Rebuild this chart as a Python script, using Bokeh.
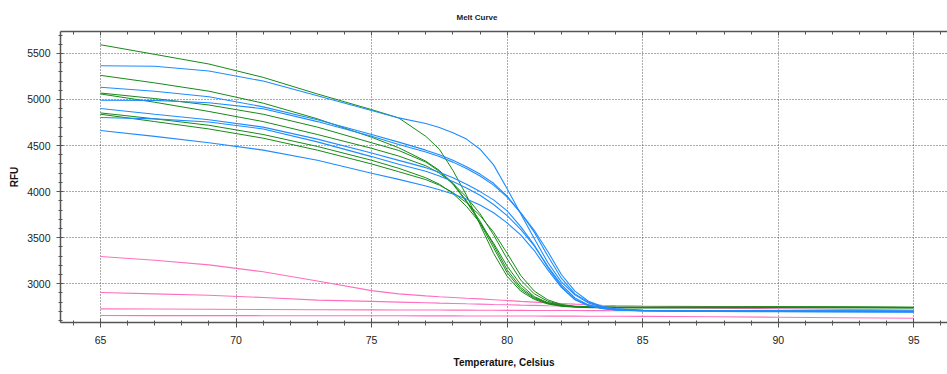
from bokeh.plotting import figure
from bokeh.models import LinearAxis, Range1d, FixedTicker
from bokeh.embed import file_html
from bokeh.resources import INLINE

# Temperatures (Celsius) at which the curves were read
temps = [65, 67, 69, 71, 73, 75, 76, 77, 77.5, 78, 78.5, 79, 79.5, 80, 80.5,
         81, 81.5, 82, 82.5, 83, 83.5, 84, 85, 87.5, 90, 92.5, 95]

# Green wells (RFU)
green_1 = [5594, 5490, 5385, 5240, 5060, 4890, 4800, 4600, 4460, 4230, 3960, 3640, 3330, 3080, 2920,
           2830, 2780, 2755, 2745, 2740, 2738, 2737, 2736, 2738, 2740, 2738, 2735]
green_2 = [5262, 5180, 5090, 4960, 4790, 4590, 4476, 4330, 4230, 4090, 3900, 3680, 3420, 3150, 2960,
           2850, 2790, 2762, 2750, 2746, 2744, 2743, 2743, 2745, 2746, 2745, 2743]
green_3 = [5070, 5010, 4940, 4840, 4700, 4530, 4447, 4320, 4220, 4080, 3890, 3660, 3390, 3120, 2940,
           2840, 2785, 2760, 2750, 2746, 2744, 2743, 2743, 2744, 2745, 2744, 2742]
green_4 = [5060, 4970, 4870, 4760, 4620, 4470, 4386, 4280, 4200, 4090, 3940, 3760, 3530, 3270, 3040,
           2890, 2810, 2770, 2752, 2746, 2744, 2743, 2743, 2745, 2746, 2745, 2743]
green_5 = [4854, 4790, 4720, 4620, 4490, 4340, 4253, 4150, 4080, 3980, 3840, 3660, 3440, 3190, 2990,
           2860, 2795, 2765, 2752, 2747, 2745, 2744, 2744, 2745, 2746, 2745, 2743]
green_6 = [4840, 4760, 4680, 4580, 4450, 4300, 4216, 4130, 4070, 3990, 3880, 3740, 3560, 3330, 3090,
           2920, 2825, 2775, 2755, 2748, 2745, 2744, 2744, 2745, 2746, 2745, 2743]

# Blue wells (RFU)
blue_1 = [5367, 5360, 5310, 5200, 5040, 4880, 4800, 4740, 4695, 4640, 4570, 4460, 4290, 4030, 3760,
          3490, 3230, 3020, 2880, 2790, 2745, 2725, 2712, 2708, 2706, 2705, 2704]
blue_2 = [5132, 5090, 5030, 4920, 4780, 4620, 4537, 4450, 4400, 4340, 4270, 4190, 4090, 3950, 3770,
          3560, 3300, 3060, 2890, 2800, 2750, 2725, 2710, 2705, 2703, 2702, 2700]
blue_3 = [4991, 4990, 4965, 4900, 4760, 4600, 4512, 4430, 4380, 4320, 4250, 4170, 4070, 3940, 3770,
          3580, 3350, 3100, 2920, 2810, 2755, 2728, 2712, 2707, 2705, 2704, 2703]
blue_4 = [4902, 4840, 4780, 4700, 4570, 4420, 4339, 4260, 4210, 4150, 4080, 4000, 3910, 3790, 3620,
          3420, 3180, 2970, 2830, 2765, 2732, 2716, 2706, 2700, 2698, 2697, 2695]
blue_5 = [4804, 4790, 4755, 4680, 4540, 4380, 4296, 4220, 4170, 4110, 4040, 3960, 3860, 3740, 3590,
          3410, 3190, 2990, 2845, 2770, 2735, 2718, 2706, 2701, 2699, 2698, 2696]
blue_6 = [4664, 4600, 4530, 4450, 4340, 4200, 4133, 4060, 4020, 3975, 3920, 3855, 3770, 3660, 3530,
          3360, 3150, 2960, 2825, 2762, 2731, 2714, 2704, 2698, 2695, 2694, 2692]

# Pink wells (RFU)
pink_1 = [3296, 3255, 3205, 3130, 3030, 2925, 2890, 2868, 2858, 2850, 2842, 2835, 2826, 2817, 2808,
          2800, 2792, 2785, 2778, 2772, 2767, 2763, 2758, 2752, 2748, 2744, 2740]
pink_2 = [2905, 2890, 2875, 2850, 2822, 2808, 2800, 2793, 2789, 2786, 2782, 2779, 2775, 2772, 2768,
          2765, 2761, 2758, 2755, 2752, 2749, 2746, 2742, 2735, 2728, 2721, 2715]
pink_3 = [2727, 2725, 2723, 2720, 2718, 2716, 2715, 2714, 2714, 2713, 2713, 2712, 2712, 2711, 2711,
          2710, 2710, 2709, 2709, 2708, 2708, 2707, 2706, 2704, 2702, 2700, 2698]
pink_4 = [2655, 2654, 2654, 2653, 2653, 2652, 2652, 2651, 2651, 2651, 2650, 2650, 2650, 2649, 2649,
          2649, 2648, 2648, 2648, 2647, 2647, 2647, 2646, 2641, 2636, 2630, 2625]

x_major = [65, 70, 75, 80, 85, 90, 95]
x_minor = list(range(63, 97))
y_major = [3000, 3500, 4000, 4500, 5000, 5500]
y_minor = list(range(2600, 5800, 100))

GREEN = "#168a16"
BLUE = "#1e8cff"
PINK = "#ff6fbf"
AXIS = "#555555"
FONT = "Liberation Sans"

p = figure(width=947, height=374, output_backend="svg", toolbar_location=None,
           x_range=Range1d(63.525, 96.243), y_range=Range1d(2579, 5738),
           min_border_left=60, min_border_right=0, min_border_top=30, min_border_bottom=52,
           background_fill_color="white", border_fill_color="white",
           outline_line_color=None, title="Melt Curve")

p.title.text_font = FONT
p.title.text_font_size = "8px"
p.title.text_font_style = "bold"
p.title.text_color = "#222222"
p.title.align = "left"
p.title.offset = 396
p.title.standoff = 20

for vals in [pink_1, pink_2, pink_3, pink_4]:
    p.line(temps, vals, line_color=PINK, line_width=1.1)
for vals in [green_1, green_2, green_3, green_4, green_5, green_6]:
    p.line(temps, vals, line_color=GREEN, line_width=1.0)
for vals in [blue_1, blue_2, blue_3, blue_4, blue_5, blue_6]:
    p.line(temps, vals, line_color=BLUE, line_width=1.1)

xt = FixedTicker(ticks=x_major, minor_ticks=x_minor)
yt = FixedTicker(ticks=y_major, minor_ticks=y_minor)

xa = p.xaxis[0]
xa.ticker = xt
xa.axis_label = "Temperature, Celsius"
ya = p.yaxis[0]
ya.ticker = yt
ya.axis_label = "RFU"

for ax in (xa, ya):
    ax.axis_line_color = AXIS
    ax.axis_line_width = 1.5
    ax.major_tick_line_color = AXIS
    ax.minor_tick_line_color = AXIS
    ax.major_label_text_font = FONT
    ax.major_label_text_font_size = "10.5px"
    ax.major_label_text_color = "#222222"
    ax.axis_label_text_font = FONT
    ax.axis_label_text_font_size = "10px"
    ax.axis_label_text_font_style = "bold"
    ax.axis_label_text_color = "#111111"

xa.major_tick_in = 4
xa.major_tick_out = 5
xa.minor_tick_in = 2
xa.minor_tick_out = 3
xa.major_label_standoff = 8
xa.axis_label_standoff = 10

ya.major_tick_in = 3
ya.major_tick_out = 4
ya.minor_tick_in = 2
ya.minor_tick_out = 2
ya.major_label_standoff = 6
ya.axis_label_standoff = 4

top = LinearAxis(ticker=FixedTicker(ticks=x_major, minor_ticks=x_minor),
                 major_label_overrides={v: "" for v in x_major},
                 axis_line_color=AXIS, axis_line_width=1.5,
                 major_tick_line_color=AXIS, minor_tick_line_color=AXIS,
                 major_tick_in=4, major_tick_out=0, minor_tick_in=3, minor_tick_out=0,
                 major_label_standoff=0, major_label_text_font_size="1px")
p.add_layout(top, "above")

p.xgrid.ticker = xt
p.ygrid.ticker = yt
for g in (p.xgrid, p.ygrid):
    g.grid_line_color = "#555555"
    g.grid_line_dash = "1 2"
    g.grid_line_width = 1

open("out.html", "w").write(file_html(p, INLINE))
